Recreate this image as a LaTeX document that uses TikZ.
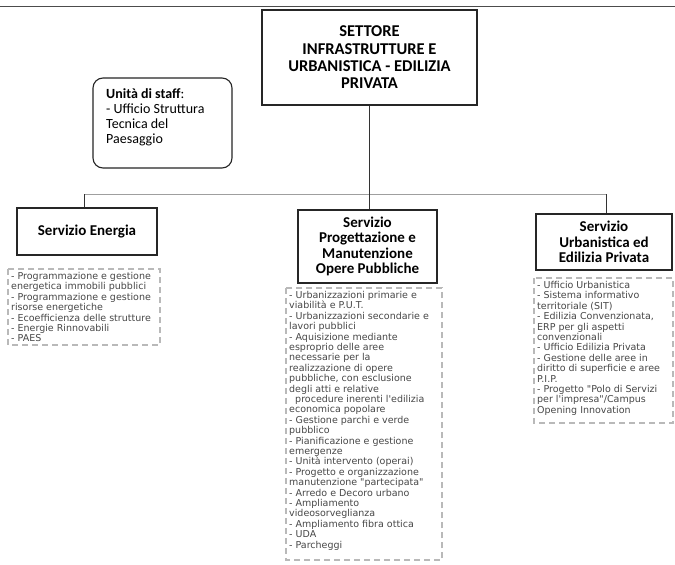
\documentclass[tikz,border=0pt]{standalone}
\usepackage{fontspec}
\setmainfont{Carlito}
\newfontfamily\listfont{DejaVu Sans}
\usetikzlibrary{calc}
\begin{document}
\begin{tikzpicture}[x=1pt,y=-1pt,
  titlebox/.style={draw=black!85, line width=1.1pt, align=center, inner sep=0pt,
    font=\bfseries\fontsize{15}{15.5}\selectfont},
  listbox/.style={draw=gray!55, line width=1.1pt, dash pattern=on 6pt off 4pt},
  listtext/.style={anchor=north west, align=left, inner sep=0pt,
    font=\listfont\fontsize{9.5}{10.4}\selectfont, text=black!72},
  conn/.style={draw=black!80, line width=0.6pt}]
\useasboundingbox (0,0) rectangle (675,565);
\fill[white] (0,0) rectangle (675,565);

% top rule
\coordinate (tl) at (0,6);
\coordinate (tr) at (675,6);
\draw[black!70, line width=0.8pt] (tl) -- (tr);

% main box
\node[titlebox, minimum width=215pt, minimum height=95pt,
  font=\bfseries\fontsize{16.5}{17.3}\selectfont] (top) at (369.5,57.5)
  {SETTORE\\INFRASTRUTTURE E\\URBANISTICA - EDILIZIA\\PRIVATA};

% staff box
\node[draw=black!85, rounded corners=10pt, line width=1.1pt,
  minimum width=139pt, minimum height=90pt] (staff) at (162.5,123) {};
\node[anchor=north west, align=left, inner sep=0pt,
  font=\fontsize{14}{15.2}\selectfont] (stafftext) at (106,88)
  {\textbf{Unità di staff}:\\- Ufficio Struttura\\Tecnica del\\Paesaggio};

% service boxes
\node[titlebox, minimum width=140pt, minimum height=47pt] (energy) at (87,231.5)
  {Servizio Energia};
\node[titlebox, minimum width=139pt, minimum height=73pt] (mid) at (367.5,246.5)
  {Servizio\\Progettazione e\\Manutenzione\\Opere Pubbliche};
\node[titlebox, minimum width=136pt, minimum height=56pt] (right) at (604,242)
  {Servizio\\Urbanistica ed\\Edilizia Privata};

% connectors
\coordinate (busL) at (84,194);
\coordinate (busM) at (369.5,194);
\coordinate (busR) at (606,194);
\draw[conn] (top.south) -- (busM);
\draw[conn] ($(staff.east)+(0,7)$) -- ($(staff.east)+(0,7)$ -| top.south);
\draw[gray!75, line width=1pt] (busL) -- (busR);
\draw[conn] (busL) -- (busL |- energy.north);
\draw[conn] (busM) -- (busM |- mid.north);
\draw[conn] (busR) -- (busR |- right.north);

% list boxes
\draw[listbox] (8,269) rectangle (160,345);
\node[listtext] (elist) at (11,272)
  {- Programmazione e gestione\\energetica immobili pubblici\\- Programmazione e gestione\\risorse energetiche\\- Ecoefficienza delle strutture\\- Energie Rinnovabili\\- PAES};

\draw[listbox] (286,288) rectangle (442,560);
\node[listtext] (mlist) at (289,291)
  {- Urbanizzazioni primarie e\\viabilità e P.U.T.\\- Urbanizzazioni secondarie e\\lavori pubblici\\- Aquisizione mediante\\esproprio delle aree\\necessarie per la\\realizzazione di opere\\pubbliche, con esclusione\\degli atti e relative\\\ \ procedure inerenti l'edilizia\\economica popolare\\- Gestione parchi e verde\\pubblico\\- Pianificazione e gestione\\emergenze\\- Unità intervento (operai)\\- Progetto e organizzazione\\manutenzione "partecipata"\\- Arredo e Decoro urbano\\- Ampliamento\\videosorveglianza\\- Ampliamento fibra ottica\\- UDA\\- Parcheggi};

\draw[listbox] (534,278) rectangle (673,423);
\node[listtext] (rlist) at (537,281)
  {- Ufficio Urbanistica\\- Sistema informativo\\territoriale (SIT)\\- Edilizia Convenzionata,\\ERP per gli aspetti\\convenzionali\\- Ufficio Edilizia Privata\\- Gestione delle aree in\\diritto di superficie e aree\\P.I.P.\\- Progetto "Polo di Servizi\\per l'impresa"/Campus\\Opening Innovation};
\end{tikzpicture}
\end{document}
